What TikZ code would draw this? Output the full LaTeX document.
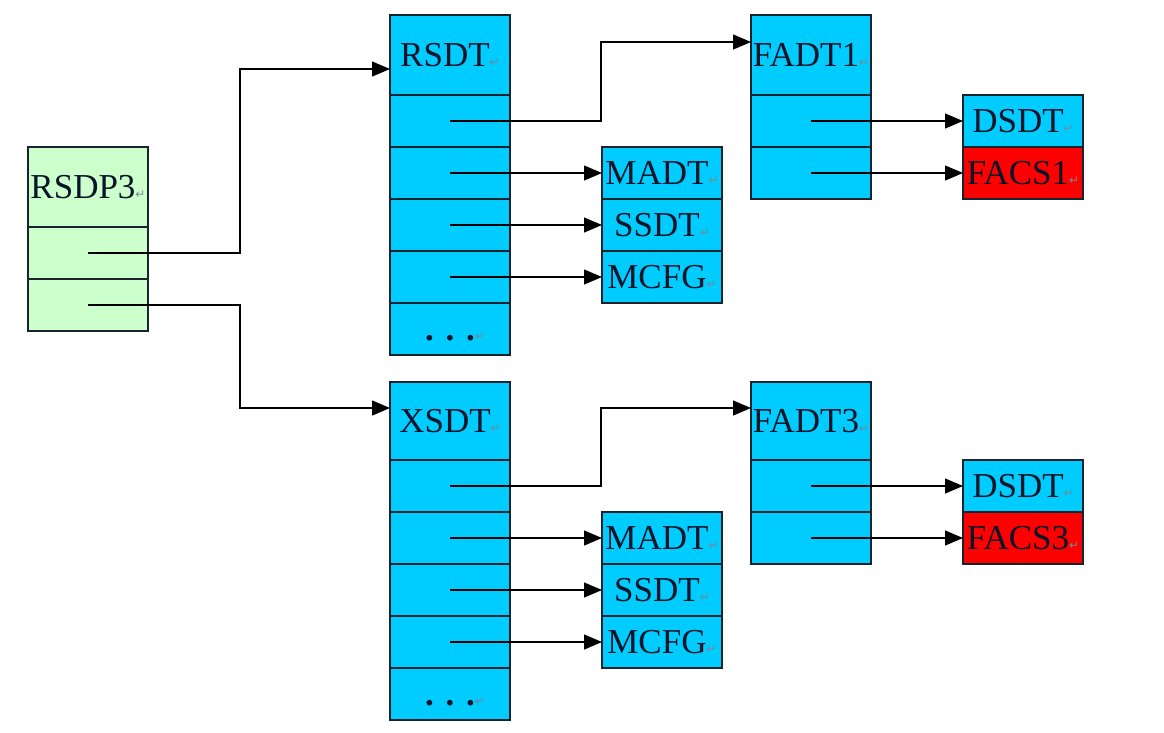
\documentclass[tikz,border=0pt]{standalone}
\usepackage{fontspec}
\setmainfont{Liberation Serif}
\newfontfamily\markfont{DejaVu Sans}
\definecolor{tblblue}{RGB}{0,204,255}
\definecolor{tblgreen}{RGB}{204,255,204}
\definecolor{tblred}{RGB}{255,0,0}
\definecolor{tbltext}{RGB}{8,20,40}
\definecolor{tblline}{RGB}{25,35,45}
\definecolor{markgray}{RGB}{120,135,150}
\newcommand{\pmark}{{\markfont\fontsize{12}{12}\selectfont\color{markgray}↵}}
\usetikzlibrary{arrows.meta,positioning}

\begin{document}
\begin{tikzpicture}[x=1pt, y=-1pt,
    cell/.style={draw=tblline, line width=1.4pt, fill=tblblue, minimum width=120pt,
        minimum height=52pt, inner sep=0pt, outer sep=0pt, text=tbltext,
        font=\fontsize{35}{40}\selectfont},
    head/.style={cell, minimum height=80pt},
    link/.style={-{Triangle[length=18pt,width=15pt]}, line width=1.2pt}]
    \fill[white] (0,0) rectangle (1164,732);
    \useasboundingbox (0,0) rectangle (1164,732);

    % root pointer
    \node[head, fill=tblgreen] (rsdp) at (88,187) {RSDP3\pmark};
    \node[cell, fill=tblgreen, below=0pt of rsdp] (rsdpA) {};
    \node[cell, fill=tblgreen, below=0pt of rsdpA] (rsdpB) {};

    % RSDT branch
    \node[head] (rsdt) at (450,55) {RSDT\pmark};
    \node[cell, below=0pt of rsdt] (rsdtA) {};
    \node[cell, below=0pt of rsdtA] (rsdtB) {};
    \node[cell, below=0pt of rsdtB] (rsdtC) {};
    \node[cell, below=0pt of rsdtC] (rsdtD) {};
    \node[cell, below=0pt of rsdtD] (rsdtE) {\vphantom{R}\hphantom{\pmark}\textbf{. . .}\pmark};

    \node[head, right=241pt of rsdt] (fadt1) {FADT1\pmark};
    \node[cell, below=0pt of fadt1] (fadt1A) {};
    \node[cell, below=0pt of fadt1A] (fadt1B) {};

    \node[cell, right=92pt of rsdtB] (madt1) {MADT\pmark};
    \node[cell, below=0pt of madt1] (ssdt1) {SSDT\pmark};
    \node[cell, below=0pt of ssdt1] (mcfg1) {MCFG\pmark};

    \node[cell, right=92pt of fadt1A] (dsdt1) {DSDT\pmark};
    \node[cell, fill=tblred, below=0pt of dsdt1] (facs1) {FACS1\pmark};

    % XSDT branch
    \node[head, below=27pt of rsdtE, minimum height=78pt] (xsdt) {XSDT\pmark};
    \node[cell, below=0pt of xsdt] (xsdtA) {};
    \node[cell, below=0pt of xsdtA] (xsdtB) {};
    \node[cell, below=0pt of xsdtB] (xsdtC) {};
    \node[cell, below=0pt of xsdtC] (xsdtD) {};
    \node[cell, below=0pt of xsdtD] (xsdtE) {\vphantom{R}\hphantom{\pmark}\textbf{. . .}\pmark};

    \node[head, right=241pt of xsdt, minimum height=78pt] (fadt3) {FADT3\pmark};
    \node[cell, below=0pt of fadt3] (fadt3A) {};
    \node[cell, below=0pt of fadt3A] (fadt3B) {};

    \node[cell, right=92pt of xsdtB] (madt3) {MADT\pmark};
    \node[cell, below=0pt of madt3] (ssdt3) {SSDT\pmark};
    \node[cell, below=0pt of ssdt3] (mcfg3) {MCFG\pmark};

    \node[cell, right=92pt of fadt3A] (dsdt3) {DSDT\pmark};
    \node[cell, fill=tblred, below=0pt of dsdt3] (facs3) {FACS3\pmark};

    % pointers
    \draw[link] (rsdpA.center) -- ++(152,0) |- ([yshift=-14pt]rsdt.west);
    \draw[link] (rsdpB.center) -- ++(152,0) |- ([yshift=13pt]xsdt.west);

    \draw[link] (rsdtA.center) -- ++(151,0) |- ([yshift=13pt]fadt1.west);
    \draw[link] (rsdtB.center) -- (madt1);
    \draw[link] (rsdtC.center) -- (ssdt1);
    \draw[link] (rsdtD.center) -- (mcfg1);
    \draw[link] (fadt1A.center) -- (dsdt1);
    \draw[link] (fadt1B.center) -- (facs1);

    \draw[link] (xsdtA.center) -- ++(151,0) |- ([yshift=13pt]fadt3.west);
    \draw[link] (xsdtB.center) -- (madt3);
    \draw[link] (xsdtC.center) -- (ssdt3);
    \draw[link] (xsdtD.center) -- (mcfg3);
    \draw[link] (fadt3A.center) -- (dsdt3);
    \draw[link] (fadt3B.center) -- (facs3);
\end{tikzpicture}
\end{document}
